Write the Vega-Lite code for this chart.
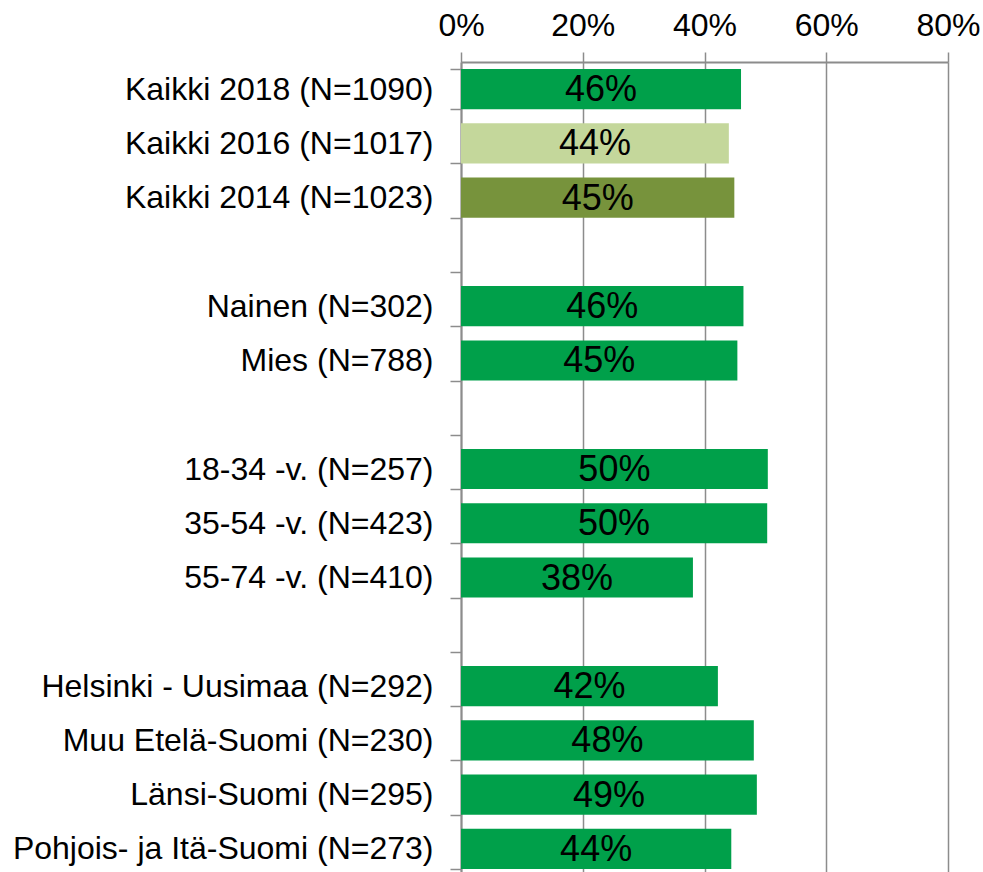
{
  "$schema": "https://vega.github.io/schema/vega-lite/v6.json",
  "width": 487,
  "height": 810,
  "autosize": {"type": "none"},
  "padding": {"left": 461, "top": 62, "right": 35, "bottom": 0},
  "background": "white",
  "config": {
    "view": {"stroke": null},
    "font": "Liberation Sans",
    "axisX": {
      "orient": "top",
      "grid": true,
      "gridColor": "#8c8c8c",
      "gridWidth": 1.5,
      "domainColor": "#8c8c8c",
      "domainWidth": 2,
      "tickColor": "#8c8c8c",
      "tickWidth": 1.5,
      "tickSize": 10,
      "labelFontSize": 32,
      "labelColor": "#000000",
      "labelPadding": 17,
      "labelBaseline": "alphabetic",
      "labelFlush": false,
      "labelOverlap": false
    },
    "axisY": {
      "grid": false,
      "tickBand": "extent",
      "tickSize": 11,
      "tickColor": "#8c8c8c",
      "tickWidth": 1.5,
      "domainColor": "#8c8c8c",
      "domainWidth": 2,
      "labelFontSize": 32,
      "labelColor": "#000000",
      "labelPadding": 17,
      "labelLimit": 600,
      "labelOverlap": false
    }
  },
  "data": {
    "values": [
      {"kategoria": "Kaikki 2018 (N=1090)", "sarja": "2018", "value": 0.460},
      {"kategoria": "Kaikki 2016 (N=1017)", "sarja": "2016", "value": 0.440},
      {"kategoria": "Kaikki 2014 (N=1023)", "sarja": "2014", "value": 0.449},
      {"kategoria": "Nainen (N=302)", "sarja": "2018", "value": 0.464},
      {"kategoria": "Mies (N=788)", "sarja": "2018", "value": 0.454},
      {"kategoria": "18-34 -v. (N=257)", "sarja": "2018", "value": 0.504},
      {"kategoria": "35-54 -v. (N=423)", "sarja": "2018", "value": 0.503},
      {"kategoria": "55-74 -v. (N=410)", "sarja": "2018", "value": 0.381},
      {"kategoria": "Helsinki - Uusimaa (N=292)", "sarja": "2018", "value": 0.422},
      {"kategoria": "Muu Etelä-Suomi (N=230)", "sarja": "2018", "value": 0.481},
      {"kategoria": "Länsi-Suomi (N=295)", "sarja": "2018", "value": 0.486},
      {"kategoria": "Pohjois- ja Itä-Suomi (N=273)", "sarja": "2018", "value": 0.444}
    ]
  },
  "transform": [{"calculate": "datum.value / 2", "as": "mid"}],
  "encoding": {
    "y": {
      "field": "kategoria",
      "type": "nominal",
      "title": null,
      "sort": null,
      "scale": {
        "domain": [
          "Kaikki 2018 (N=1090)", "Kaikki 2016 (N=1017)", "Kaikki 2014 (N=1023)", "tyhjä1",
          "Nainen (N=302)", "Mies (N=788)", "tyhjä2",
          "18-34 -v. (N=257)", "35-54 -v. (N=423)", "55-74 -v. (N=410)", "tyhjä3",
          "Helsinki - Uusimaa (N=292)", "Muu Etelä-Suomi (N=230)", "Länsi-Suomi (N=295)", "Pohjois- ja Itä-Suomi (N=273)"
        ],
        "range": [0, 814],
        "paddingInner": 0.26,
        "paddingOuter": 0.13
      },
      "axis": {"labelExpr": "indexof(datum.label, 'tyhjä') == 0 ? '' : datum.label"}
    }
  },
  "layer": [
    {
      "mark": {"type": "bar"},
      "encoding": {
        "x": {
          "field": "value",
          "type": "quantitative",
          "title": null,
          "scale": {"domain": [0, 0.8], "nice": false},
          "axis": {"values": [0, 0.2, 0.4, 0.6, 0.8], "format": ".0%"}
        },
        "color": {
          "field": "sarja",
          "type": "nominal",
          "legend": null,
          "scale": {"domain": ["2018", "2016", "2014"], "range": ["#00A04A", "#C4D79B", "#77933C"]}
        }
      }
    },
    {
      "mark": {"type": "text", "fontSize": 36, "baseline": "middle", "align": "center", "color": "#000000", "dy": 1},
      "encoding": {
        "x": {
          "field": "mid",
          "type": "quantitative",
          "title": null,
          "axis": {"values": [0, 0.2, 0.4, 0.6, 0.8], "format": ".0%"}
        },
        "text": {"field": "value", "type": "quantitative", "format": ".0%"}
      }
    }
  ]
}
